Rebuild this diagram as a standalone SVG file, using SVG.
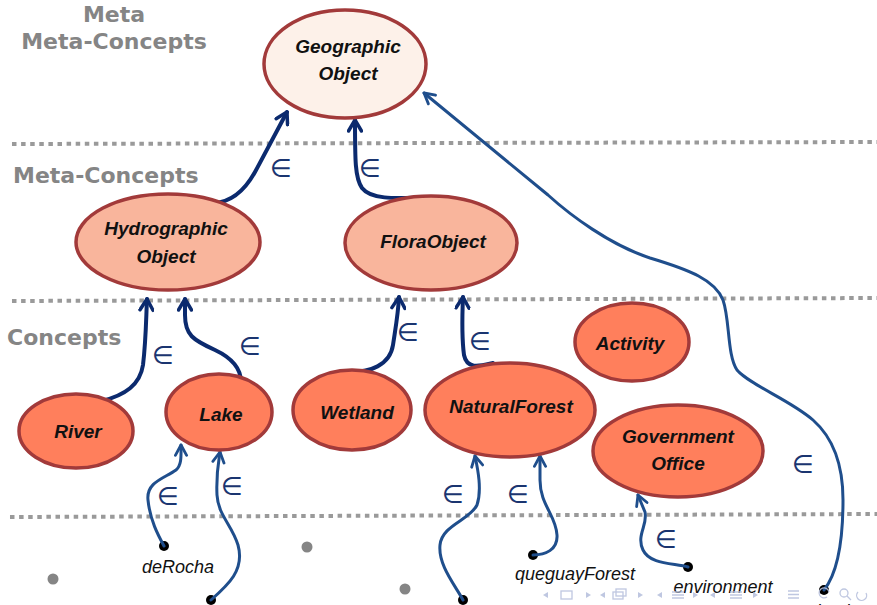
<svg xmlns="http://www.w3.org/2000/svg" width="877" height="605" viewBox="0 0 877 605">
<defs>
<style>
.hdr{font-family:"DejaVu Sans",Verdana,sans-serif;font-weight:bold;font-size:22px;fill:#858585}
.dots{stroke:#9a9a9a;stroke-width:4;stroke-dasharray:4.5 4.6;fill:none}
.meta2{fill:#fdf1e9;stroke:#a23a3a;stroke-width:3.5}
.meta{fill:#f9b59c;stroke:#a23a3a;stroke-width:3.5}
.con{fill:#ff7f5c;stroke:#a23a3a;stroke-width:3.5}
.nt{font-family:"Liberation Sans",Arial,sans-serif;font-weight:bold;font-style:italic;font-size:19px;fill:#111;text-anchor:middle}
.lbl{font-family:"Liberation Sans",Arial,sans-serif;font-style:italic;font-size:18px;fill:#111;text-anchor:middle}
.eps{font-family:"DejaVu Sans",sans-serif;font-size:25px;fill:#1a3570;text-anchor:middle}
.dk{fill:none;stroke:#0b2a6e;stroke-width:4;stroke-linecap:round;marker-end:url(#ahd)}
.lt{fill:none;stroke:#1f4e8c;stroke-width:3;stroke-linecap:round;marker-end:url(#ahl)}
.gdot{fill:#858585}
.bdot{fill:#000}
.nav{fill:none;stroke:#b9c2de;stroke-width:1.3}
.navf{fill:#b9c2de}
</style>
<marker id="ahd" viewBox="0 0 16 16" refX="14" refY="8" markerWidth="16" markerHeight="16" markerUnits="userSpaceOnUse" orient="auto">
<path d="M3,1.5 L14,8 L3,14.5" fill="none" stroke="#0b2a6e" stroke-width="3.5" stroke-linecap="round" stroke-linejoin="round"/>
</marker>
<marker id="ahl" viewBox="0 0 16 16" refX="14" refY="8" markerWidth="15" markerHeight="15" markerUnits="userSpaceOnUse" orient="auto">
<path d="M3,2 L14,8 L3,14" fill="none" stroke="#1f4e8c" stroke-width="3" stroke-linecap="round" stroke-linejoin="round"/>
</marker>
</defs>

<g id="headers">
<text class="hdr" x="114" y="22" text-anchor="middle">Meta</text>
<text class="hdr" x="114" y="49" text-anchor="middle">Meta-Concepts</text>
<text class="hdr" x="13" y="183">Meta-Concepts</text>
<text class="hdr" x="7" y="345">Concepts</text>
</g>

<g id="separators">
<line class="dots" x1="12" y1="144" x2="877" y2="142"/>
<line class="dots" x1="12" y1="301" x2="877" y2="298"/>
<line class="dots" x1="10" y1="517" x2="877" y2="514"/>
</g>

<g id="instances">
<circle class="gdot" cx="53" cy="579" r="5.5"/>
<circle class="gdot" cx="307" cy="547" r="5.5"/>
<circle class="gdot" cx="405" cy="589" r="5.5"/>
<circle class="bdot" cx="164" cy="546" r="5"/>
<circle class="bdot" cx="211" cy="600" r="5"/>
<circle class="bdot" cx="463" cy="600" r="5"/>
<circle class="bdot" cx="533" cy="555" r="5"/>
<circle class="bdot" cx="688" cy="567" r="5"/>
<circle class="bdot" cx="824" cy="590" r="5"/>
<text class="lbl" x="178" y="573">deRocha</text>
<text class="lbl" x="575" y="580">queguayForest</text>
<text class="lbl" x="723" y="593">environment</text>
<text class="lbl" x="838" y="617">basin</text>
</g>

<g id="connectors">
<path class="dk" d="M214 203 C232 202 245 190 255 172 L287 112"/>
<path class="dk" d="M436 197 C400 198 372 201 362 188 C355 178 355 160 355 120"/>
<path class="dk" d="M102 401 C125 395 140 385 143 365 C146 340 146 320 147 299"/>
<path class="dk" d="M241 382 C241 368 232 358 215 350 C193 340 185 335 185 315 L185 299"/>
<path class="dk" d="M347 372 C370 373 390 365 393 345 C396 325 398 315 399 297"/>
<path class="dk" d="M493 363 C480 366 467 370 464 355 C462 340 462 320 463 297"/>
<path class="lt" d="M164 546 C158 535 150 520 148 500 C146 482 165 478 176 470 C182 465 181 455 181 445"/>
<path class="lt" d="M211 600 C228 585 245 570 238 545 C232 525 218 515 217 495 C216 475 218 465 220 452"/>
<path class="lt" d="M463 600 C455 585 438 565 440 545 C442 525 470 520 477 505 C482 490 478 470 475 456"/>
<path class="lt" d="M533 555 C545 555 558 550 557 535 C556 515 540 505 540 480 L540 456"/>
<path class="lt" d="M688 567 C675 563 650 565 643 550 C636 535 648 525 645 512 C642 505 640 500 638 495"/>
<path class="lt" d="M824 590 C836 575 843 545 843 500 C843 460 830 435 813 420 C790 400 750 385 737 370 C727 355 730 320 723 300 C715 280 690 270 650 258 C610 245 570 215 548 195 L424 93"/>
<text class="eps" x="281" y="177">∈</text>
<text class="eps" x="370" y="177">∈</text>
<text class="eps" x="163" y="364">∈</text>
<text class="eps" x="250" y="355">∈</text>
<text class="eps" x="408" y="341">∈</text>
<text class="eps" x="480" y="350">∈</text>
<text class="eps" x="168" y="505">∈</text>
<text class="eps" x="232" y="495">∈</text>
<text class="eps" x="453" y="503">∈</text>
<text class="eps" x="518" y="503">∈</text>
<text class="eps" x="666" y="548">∈</text>
<text class="eps" x="803" y="473">∈</text>
</g>

<g id="geographic-object">
<ellipse class="meta2" cx="345" cy="64" rx="81" ry="54"/>
<text class="nt" x="348" y="53">Geographic</text>
<text class="nt" x="348" y="80">Object</text>
</g>
<g id="hydrographic-object">
<ellipse class="meta" cx="168" cy="242" rx="92" ry="48"/>
<text class="nt" x="166" y="235">Hydrographic</text>
<text class="nt" x="166" y="263">Object</text>
</g>
<g id="flora-object">
<ellipse class="meta" cx="431" cy="243" rx="86" ry="47"/>
<text class="nt" x="433" y="248">FloraObject</text>
</g>
<g id="river">
<ellipse class="con" cx="76" cy="431" rx="57" ry="37"/>
<text class="nt" x="78" y="438">River</text>
</g>
<g id="lake">
<ellipse class="con" cx="219" cy="412" rx="53" ry="38"/>
<text class="nt" x="221" y="421">Lake</text>
</g>
<g id="wetland">
<ellipse class="con" cx="352" cy="410" rx="59" ry="40"/>
<text class="nt" x="357" y="419">Wetland</text>
</g>
<g id="natural-forest">
<ellipse class="con" cx="510" cy="410" rx="85" ry="47"/>
<text class="nt" x="511" y="413">NaturalForest</text>
</g>
<g id="activity">
<ellipse class="con" cx="632" cy="342" rx="57" ry="39"/>
<text class="nt" x="630" y="350">Activity</text>
</g>
<g id="government-office">
<ellipse class="con" cx="678" cy="451" rx="85" ry="46"/>
<text class="nt" x="678" y="443">Government</text>
<text class="nt" x="678" y="470">Office</text>
</g>

<g id="navigation" opacity="0.9">
<path class="navf" d="M548 592 L543 595 L548 598 Z"/>
<rect class="nav" x="561" y="591" width="11" height="8"/>
<path class="navf" d="M586 592 L591 595 L586 598 Z"/>
<path class="navf" d="M605 592 L600 595 L605 598 Z"/>
<rect class="nav" x="613" y="592" width="10" height="7"/>
<rect class="nav" x="616" y="589" width="10" height="7"/>
<path class="navf" d="M638 592 L643 595 L638 598 Z"/>
<path class="navf" d="M662 592 L657 595 L662 598 Z"/>
<path class="nav" d="M672 592 H684 M672 595 H684 M672 598 H684"/>
<path class="navf" d="M693 592 L698 595 L693 598 Z"/>
<path class="navf" d="M715 592 L710 595 L715 598 Z"/>
<path class="nav" d="M730 592 H742 M730 595 H742 M730 598 H742"/>
<path class="navf" d="M753 592 L758 595 L753 598 Z"/>
<path class="nav" d="M788 591 H799 M788 594.5 H799 M788 598 H799"/>
<path class="nav" d="M827 597 A5 5 0 1 1 829 592"/>
<circle class="nav" cx="844" cy="593" r="4"/>
<path class="nav" d="M847 596 L851 600"/>
<path class="nav" d="M858 592 A5 5 0 1 0 866 593"/>
</g>
</svg>
